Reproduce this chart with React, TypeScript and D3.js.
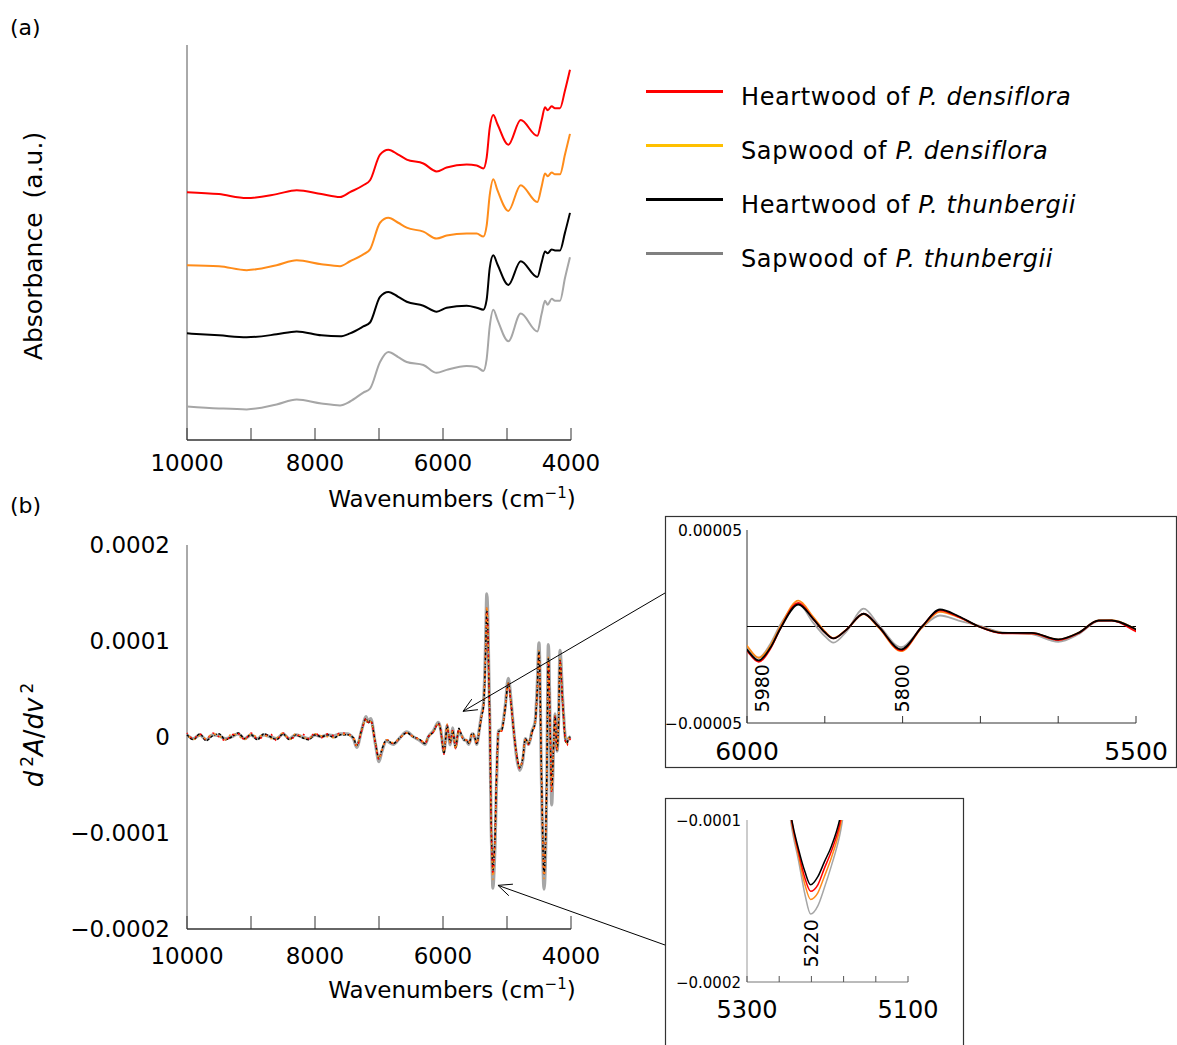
import * as d3 from "d3";

// ---------- panel (a): NIR absorbance spectra (stacked, arbitrary units) ----------
const WN_A = [
  10000, 9500, 9067, 8600, 8286, 7900, 7609, 7453, 7245, 7140,
  6984, 6854, 6700, 6567, 6307, 6099, 5943, 5630, 5474, 5370,
  5318, 5270, 5214, 5150, 4979, 4786, 4526, 4458, 4406, 4365,
  4302, 4250, 4172, 4094, 4016,
];
const HEART_DENS_A = [
  2.51, 2.49, 2.45, 2.49, 2.53, 2.49, 2.46, 2.51, 2.58, 2.63,
  2.89, 2.94, 2.89, 2.84, 2.8, 2.72, 2.76, 2.79, 2.78, 2.75,
  2.86, 3.16, 3.29, 3.2, 2.99, 3.24, 3.08, 3.24, 3.37, 3.34,
  3.38, 3.36, 3.36, 3.54, 3.75,
];
const SAP_DENS_A = [
  1.77, 1.76, 1.72, 1.77, 1.82, 1.78, 1.76, 1.81, 1.88, 1.93,
  2.2, 2.25, 2.2, 2.15, 2.11, 2.04, 2.07, 2.09, 2.09, 2.06,
  2.17, 2.48, 2.64, 2.53, 2.32, 2.58, 2.41, 2.57, 2.7, 2.67,
  2.71, 2.69, 2.69, 2.89, 3.1,
];
const HEART_THUN_A = [
  1.08, 1.06, 1.04, 1.07, 1.1, 1.06, 1.05, 1.08, 1.15, 1.19,
  1.45, 1.5, 1.45, 1.4, 1.36, 1.3, 1.34, 1.36, 1.34, 1.32,
  1.42, 1.74, 1.87, 1.78, 1.57, 1.81, 1.65, 1.8, 1.91, 1.89,
  1.93, 1.92, 1.92, 2.1, 2.3,
];
const SAP_THUN_A = [
  0.34, 0.32, 0.31, 0.36, 0.41, 0.37, 0.35, 0.39, 0.48, 0.52,
  0.79, 0.89, 0.84, 0.79, 0.76, 0.68, 0.71, 0.75, 0.74, 0.7,
  0.82, 1.15, 1.32, 1.22, 1.0, 1.28, 1.1, 1.28, 1.41, 1.37,
  1.43, 1.41, 1.41, 1.64, 1.85,
];

// ---------- panel (b): second derivative, values in units of 1e-5 ----------
const UNIT_B = 1e-5;
const WN_B = [
  // baseline noise region
  10000, 9900, 9800, 9700, 9600, 9500, 9400, 9300, 9200, 9100,
  9000, 8900, 8800, 8700, 8600, 8500, 8400, 8300, 8200, 8100,
  8000, 7900, 7800, 7700, 7600,
  // band region
  7500, 7400, 7349, 7271, 7203, 7172, 7130, 7055, 7000, 6958,
  6880, 6838, 6776, 6672, 6567, 6464, 6360, 6281, 6229, 6151,
  6073, 6037, 6015, 6000, 5985, 5970, 5957, 5934, 5915, 5900,
  5889, 5872, 5850, 5831, 5802, 5775, 5752, 5728, 5702, 5672,
  5634, 5600, 5574, 5548, 5531, 5500, 5474, 5430, 5396, 5370,
  5344, 5330, 5316, 5300, 5285, 5266, 5250, 5245, 5236, 5228,
  5221, 5212, 5204, 5195, 5185, 5170, 5150, 5136, 5083, 5031,
  4979, 4937, 4896, 4844, 4802, 4750, 4714, 4661, 4609, 4562,
  4530, 4500, 4458, 4422, 4380, 4354, 4323, 4302, 4271, 4250,
  4219, 4195, 4172, 4130, 4083, 4063, 4040, 4005,
];
const HEART_DENS_B = [
  0.4, -0.2, 0.3, -0.3, 0.4, 0.0, -0.4, 0.2, 0.3, -0.3,
  0.4, -0.2, 0.0, 0.3, -0.4, 0.4, -0.2, 0.0, 0.3, -0.2,
  0.4, -0.1, 0.3, 0.1, 0.4,
  0.3, -0.1, -1.0, 0.6, 1.9, 1.5, 1.7, -0.8, -2.4, -1.5,
  -0.3, -0.4, -0.7, -0.1, 0.4, 0.0, -0.3, -0.7, 0.0, 0.5,
  1.4, 0.7, -0.4, -1.25, -1.83, -1.15, -0.1, 1.22, 0.4, -0.3,
  -0.62, -0.16, 0.66, 0.0, -1.24, 0.0, 0.84, 0.5, 0.0, -0.35,
  -0.35, -0.7, -0.35, 0.3, 0.3, -0.25, -0.75, 0.8, 2.2, 3.0,
  6.6, 10.2, 13.4, 11.4, 6.5, 0.3, -8.1, -9.9, -12.0, -13.6,
  -14.4, -14.0, -13.0, -11.9, -10.3, -5.8, -1.6, 0.5, 0.6, 2.8,
  5.5, 3.4, 0.6, -2.2, -3.3, -2.1, -0.3, -0.8, 0.4, 1.3,
  4.4, 8.7, -5.1, -14.5, -5.1, 7.9, -0.1, -5.8, -0.8, 2.1,
  -1.5, 1.3, 7.9, 3.4, -0.6, -0.9, -0.5, -0.2,
];
const SAP_DENS_B = [
  0.3, -0.3, 0.1, -0.2, 0.3, 0.1, -0.3, 0.3, 0.1, -0.3,
  0.3, 0.0, 0.2, -0.2, -0.1, 0.4, -0.3, 0.3, 0.0, -0.2,
  0.3, 0.1, 0.0, -0.1, 0.3,
  0.2, -0.1, -0.9, 0.7, 1.8, 1.4, 1.6, -0.7, -2.3, -1.4,
  -0.3, -0.5, -0.6, -0.1, 0.4, 0.0, -0.3, -0.6, 0.0, 0.5,
  1.4, 0.8, -0.2, -1.0, -1.62, -1.0, 0.0, 1.34, 0.5, -0.25,
  -0.6, -0.15, 0.64, -0.05, -1.28, -0.05, 0.76, 0.48, 0.0, -0.33,
  -0.35, -0.68, -0.33, 0.32, 0.33, -0.15, -0.7, 0.8, 2.2, 3.1,
  6.7, 10.4, 13.6, 11.6, 6.6, 0.4, -8.2, -10.0, -12.2, -14.0,
  -14.9, -14.5, -13.5, -12.3, -10.6, -6.0, -1.7, 0.5, 0.7, 2.9,
  5.6, 3.5, 0.7, -2.1, -3.2, -2.0, -0.2, -0.7, 0.5, 1.4,
  4.6, 9.0, -5.2, -14.8, -5.2, 8.3, 0.0, -5.7, -0.7, 2.2,
  -1.4, 1.4, 8.1, 3.6, -0.4, -0.7, -0.2, 0.0,
];
const HEART_THUN_B = [
  0.2, -0.3, 0.3, -0.4, 0.1, 0.3, -0.3, 0.0, 0.4, -0.2,
  0.2, -0.3, 0.3, 0.0, -0.3, 0.3, -0.3, 0.2, -0.1, -0.3,
  0.2, 0.0, 0.2, -0.1, 0.2,
  0.2, -0.1, -0.9, 0.7, 1.9, 1.4, 1.7, -0.7, -2.3, -1.4,
  -0.3, -0.5, -0.7, -0.1, 0.4, 0.0, -0.3, -0.7, 0.0, 0.5,
  1.4, 0.7, -0.4, -1.2, -1.76, -1.1, -0.1, 1.14, 0.4, -0.3,
  -0.62, -0.16, 0.66, 0.0, -1.19, 0.0, 0.88, 0.53, 0.0, -0.33,
  -0.33, -0.67, -0.33, 0.31, 0.31, -0.15, -0.7, 0.8, 2.2, 3.0,
  6.5, 10.0, 13.2, 11.3, 6.4, 0.3, -8.0, -9.8, -11.8, -13.2,
  -14.0, -13.5, -12.6, -11.6, -10.0, -5.5, -1.5, 0.5, 0.7, 2.8,
  5.6, 3.5, 0.7, -2.1, -3.2, -2.1, -0.2, -0.7, 0.5, 1.4,
  4.5, 8.9, -5.0, -14.3, -5.0, 8.2, 0.0, -5.6, -0.7, 2.2,
  -1.4, 1.4, 8.0, 3.5, -0.5, -0.7, -0.2, 0.0,
];
const SAP_THUN_B = [
  0.2, -0.2, 0.2, -0.3, 0.2, 0.1, -0.2, 0.0, 0.3, -0.2,
  0.2, -0.2, 0.2, 0.0, -0.2, 0.3, -0.2, 0.2, 0.0, -0.2,
  0.2, 0.0, 0.2, 0.1, 0.3,
  0.3, -0.2, -1.1, 0.7, 2.1, 1.6, 1.9, -0.8, -2.6, -1.6,
  -0.4, -0.6, -0.8, -0.1, 0.5, 0.0, -0.4, -0.8, 0.0, 0.6,
  1.5, 0.8, -0.3, -1.15, -1.62, -0.9, 0.1, 1.17, 0.2, -0.5,
  -0.84, -0.25, 0.93, 0.1, -1.07, -0.05, 0.57, 0.31, 0.05, -0.3,
  -0.4, -0.79, -0.4, 0.28, 0.3, -0.15, -0.8, 0.9, 2.4, 3.3,
  7.4, 11.2, 14.9, 12.6, 7.1, 0.5, -8.4, -10.3, -12.5, -14.6,
  -15.8, -15.3, -14.2, -12.8, -11.0, -6.4, -1.8, 0.6, 0.8, 3.0,
  6.1, 3.8, 0.7, -2.4, -3.5, -2.3, -0.2, -0.8, 0.6, 1.5,
  5.0, 9.8, -5.9, -15.9, -5.9, 9.6, 0.0, -7.1, -0.8, 2.4,
  -1.5, 1.5, 9.0, 3.9, -0.3, -0.5, -0.2, 0.0,
];

// ---------- series, ticks, labels ----------
const SERIES = [
  { key: "hd", label: "Heartwood of ", species: "P. densiflora", color: "#ff0000", legend: "#ff0000", a: HEART_DENS_A, b: HEART_DENS_B },
  { key: "sd", label: "Sapwood of ", species: "P. densiflora", color: "#ff8c1a", legend: "#ffc000", a: SAP_DENS_A, b: SAP_DENS_B },
  { key: "ht", label: "Heartwood of ", species: "P. thunbergii", color: "#000000", legend: "#000000", a: HEART_THUN_A, b: HEART_THUN_B },
  { key: "st", label: "Sapwood of ", species: "P. thunbergii", color: "#a6a6a6", legend: "#808080", a: SAP_THUN_A, b: SAP_THUN_B },
];

const X_TICKS = [10000, 9000, 8000, 7000, 6000, 5000, 4000];
const X_LABELS = [10000, 8000, 6000, 4000];
const B_Y_LABELS = [0.0002, 0.0001, 0, -0.0001, -0.0002];
const INSET1_X_TICKS = [6000, 5900, 5800, 5700, 5600, 5500];
const INSET1_X_LABELS = [6000, 5500];
const INSET1_Y_LABELS = [0.00005, -0.00005];
const INSET1_PEAKS = [5980, 5800];
const INSET2_X_TICKS = [5300, 5260, 5220, 5180, 5140, 5100];
const INSET2_X_LABELS = [5300, 5100];
const INSET2_Y_LABELS = [-0.0001, -0.0002];
const INSET2_PEAKS = [5220];

const FONT = "'DejaVu Sans', 'Liberation Sans', sans-serif";
const fmt = (v: number) => (v === 0 ? "0" : (v < 0 ? "\u2212" : "") + Math.abs(v).toString());

// ---------- scales ----------
const xA = d3.scaleLinear().domain([10000, 4000]).range([187, 571]);
const yA = d3.scaleLinear().domain([0, 4]).range([440, 45]);
const xB = d3.scaleLinear().domain([10000, 4000]).range([187, 571]);
const yB = d3.scaleLinear().domain([-0.0002, 0.0002]).range([928.5, 545]);
const xI1 = d3.scaleLinear().domain([6000, 5500]).range([747, 1136]);
const yI1 = d3.scaleLinear().domain([-0.00005, 0.00005]).range([723, 530]);
const xI2 = d3.scaleLinear().domain([5300, 5100]).range([747, 908]);
const yI2 = d3.scaleLinear().domain([-0.0002, -0.0001]).range([982, 820]);

type Pt = { wn: number; v: number };
const toPts = (wn: number[], vals: number[], unit = 1): Pt[] =>
  wn.map((w, i) => ({ wn: w, v: vals[i] * unit }));

const mkLine = (x: d3.ScaleLinear<number, number>, y: d3.ScaleLinear<number, number>) =>
  d3.line<Pt>().x((d) => x(d.wn)).y((d) => y(d.v)).curve(d3.curveMonotoneX);

const lineA = mkLine(xA, yA);
const lineB = mkLine(xB, yB);
const lineI1 = mkLine(xI1, yI1);
const lineI2 = mkLine(xI2, yI2);

// arrows: from inset box edge to a data location in panel (b)
const ARROWS = [
  { from: [665, 593], wn: 5687, v: 0.0000265 },
  { from: [665, 945], wn: 5141, v: -0.000155 },
];

function Arrow({ from, to }: { from: number[]; to: number[] }) {
  const ang = Math.atan2(from[1] - to[1], from[0] - to[0]);
  const L = 15;
  const s = 0.42;
  const p1 = [to[0] + L * Math.cos(ang + s), to[1] + L * Math.sin(ang + s)];
  const p2 = [to[0] + L * Math.cos(ang - s), to[1] + L * Math.sin(ang - s)];
  return (
    <g stroke="#000" strokeWidth={1} fill="none">
      <line x1={from[0]} y1={from[1]} x2={to[0]} y2={to[1]} />
      <polyline points={`${p1.join(",")} ${to.join(",")} ${p2.join(",")}`} />
    </g>
  );
}

export default function App() {
  const [x0, x1] = xA.range();
  const bPts = SERIES.map((s) => toPts(WN_B, s.b, UNIT_B));
  const bStyles = [
    { w: 1.5, dash: "2,4", off: 1 }, // red
    { w: 1.5, dash: "2,4", off: 3 }, // orange
    { w: 1.5, dash: "3,1.5", off: 0 }, // black
    { w: 3.2, dash: "", off: 0 }, // gray
  ];
  const drawOrderB = [3, 2, 0, 1];
  const drawOrderI = [3, 1, 0, 2];

  return (
    <svg
      width={1177}
      height={1045}
      style={{ position: "absolute", left: 0, top: 0, background: "#fff" }}
      fontFamily={FONT}
    >
      <defs>
        <clipPath id="clipI1">
          <rect x={747} y={530} width={389} height={193} />
        </clipPath>
        <clipPath id="clipI2">
          <rect x={747} y={820} width={161} height={162} />
        </clipPath>
      </defs>

      {/* ---------------- panel (a) ---------------- */}
      <text x={10} y={35} fontSize={22}>(a)</text>
      <line x1={x0} x2={x0} y1={45} y2={440} stroke="#555" strokeWidth={1} />
      <line x1={x0} x2={x1} y1={440} y2={440} stroke="#333" strokeWidth={1.5} />
      {X_TICKS.map((t) => (
        <line key={t} x1={xA(t)} x2={xA(t)} y1={440} y2={428} stroke="#333" strokeWidth={1} />
      ))}
      {X_LABELS.map((t) => (
        <text key={t} x={xA(t)} y={471} fontSize={23} textAnchor="middle">{t}</text>
      ))}
      <text x={452} y={507} fontSize={23} textAnchor="middle">
        Wavenumbers (cm<tspan fontSize={15} dy={-9}>{"\u2212"}1</tspan>
        <tspan dy={9}>)</tspan>
      </text>
      <text transform="translate(42,246) rotate(-90)" fontSize={25} textAnchor="middle">
        Absorbance<tspan dx={14}>(a.u.)</tspan>
      </text>
      {SERIES.map((s) => (
        <path key={s.key} d={lineA(toPts(WN_A, s.a)) || ""} fill="none" stroke={s.color} strokeWidth={2} />
      ))}

      {/* legend */}
      {SERIES.map((s, i) => {
        const ly = 91.5 + i * 54;
        return (
          <g key={s.key}>
            <line x1={646} x2={723} y1={ly} y2={ly} stroke={s.legend} strokeWidth={3} />
            <text x={741} y={ly + 13.5} fontSize={24} letterSpacing={0.6}>
              {s.label}
              <tspan fontStyle="italic">{s.species}</tspan>
            </text>
          </g>
        );
      })}

      {/* ---------------- panel (b) ---------------- */}
      <text x={10} y={513} fontSize={22}>(b)</text>
      <line x1={x0} x2={x0} y1={545} y2={929} stroke="#555" strokeWidth={1} />
      <line x1={x0} x2={x1} y1={929} y2={929} stroke="#333" strokeWidth={1.5} />
      {X_TICKS.map((t) => (
        <line key={t} x1={xB(t)} x2={xB(t)} y1={929} y2={916} stroke="#333" strokeWidth={1} />
      ))}
      {X_LABELS.map((t) => (
        <text key={t} x={xB(t)} y={964} fontSize={23} textAnchor="middle">{t}</text>
      ))}
      {B_Y_LABELS.map((t) => (
        <text key={t} x={170} y={yB(t) + 8.4} fontSize={23} textAnchor="end">{fmt(t)}</text>
      ))}
      <text x={452} y={998} fontSize={23} textAnchor="middle">
        Wavenumbers (cm<tspan fontSize={15} dy={-9}>{"\u2212"}1</tspan>
        <tspan dy={9}>)</tspan>
      </text>
      <text transform="translate(43,735) rotate(-90)" fontSize={26} textAnchor="middle" fontStyle="italic">
        d<tspan dx={4} dy={-10} fontSize={17} fontStyle="normal">2</tspan>
        <tspan dy={10}>A</tspan>
        <tspan fontStyle="normal">/</tspan>
        <tspan>dv</tspan>
        <tspan dx={4} dy={-10} fontSize={17} fontStyle="normal">2</tspan>
      </text>
      {drawOrderB.map((i) => {
        const st = bStyles[i];
        return (
          <path
            key={SERIES[i].key}
            d={lineB(bPts[i]) || ""}
            fill="none"
            stroke={SERIES[i].color}
            strokeWidth={st.w}
            strokeDasharray={st.dash || undefined}
            strokeDashoffset={st.off}
            strokeLinejoin="round"
          />
        );
      })}

      {ARROWS.map((a, i) => (
        <Arrow key={i} from={a.from} to={[xB(a.wn), yB(a.v)]} />
      ))}

      {/* ---------------- inset 1: 6000-5500 ---------------- */}
      <rect x={665.5} y={516.5} width={511} height={251} fill="#fff" stroke="#333" strokeWidth={1.2} />
      <line x1={747} x2={747} y1={530} y2={723} stroke="#333" strokeWidth={1} />
      <line x1={747} x2={1136} y1={723} y2={723} stroke="#333" strokeWidth={1} />
      {INSET1_X_TICKS.map((t) => (
        <line key={t} x1={xI1(t)} x2={xI1(t)} y1={723} y2={716} stroke="#333" strokeWidth={1} />
      ))}
      {INSET1_X_LABELS.map((t) => (
        <text key={t} x={xI1(t)} y={760} fontSize={25} textAnchor="middle">{t}</text>
      ))}
      {INSET1_Y_LABELS.map((t) => (
        <text key={t} x={742} y={yI1(t) + 5.5} fontSize={15.5} textAnchor="end">{fmt(t)}</text>
      ))}
      <line x1={747} x2={1136} y1={yI1(0)} y2={yI1(0)} stroke="#000" strokeWidth={1} />
      <g clipPath="url(#clipI1)">
        {drawOrderI.map((i) => (
          <path key={SERIES[i].key} d={lineI1(bPts[i]) || ""} fill="none" stroke={SERIES[i].color} strokeWidth={1.8} />
        ))}
      </g>
      {INSET1_PEAKS.map((p) => (
        <text
          key={p}
          transform={`translate(${xI1(p) + 6},${yI1(-0.000032)}) rotate(-90)`}
          fontSize={19}
          textAnchor="middle"
        >
          {p}
        </text>
      ))}

      {/* ---------------- inset 2: 5300-5100 ---------------- */}
      <rect x={665.5} y={798.5} width={298} height={260} fill="#fff" stroke="#333" strokeWidth={1.2} />
      <line x1={747} x2={747} y1={820} y2={982} stroke="#999" strokeWidth={1} />
      <line x1={747} x2={908} y1={982} y2={982} stroke="#777" strokeWidth={1} />
      {INSET2_X_TICKS.map((t) => (
        <line key={t} x1={xI2(t)} x2={xI2(t)} y1={982} y2={976} stroke="#555" strokeWidth={1} />
      ))}
      {INSET2_X_LABELS.map((t) => (
        <text key={t} x={xI2(t)} y={1018} fontSize={24} textAnchor="middle">{t}</text>
      ))}
      {INSET2_Y_LABELS.map((t) => (
        <text key={t} x={741} y={yI2(t) + 5.5} fontSize={15} textAnchor="end">{fmt(t)}</text>
      ))}
      <g clipPath="url(#clipI2)">
        {drawOrderI.map((i) => (
          <path key={SERIES[i].key} d={lineI2(bPts[i]) || ""} fill="none" stroke={SERIES[i].color} strokeWidth={1.5} />
        ))}
      </g>
      {INSET2_PEAKS.map((p) => (
        <text
          key={p}
          transform={`translate(${xI2(p) + 6.5},${yI2(-0.0001762)}) rotate(-90)`}
          fontSize={19}
          textAnchor="middle"
        >
          {p}
        </text>
      ))}
    </svg>
  );
}
